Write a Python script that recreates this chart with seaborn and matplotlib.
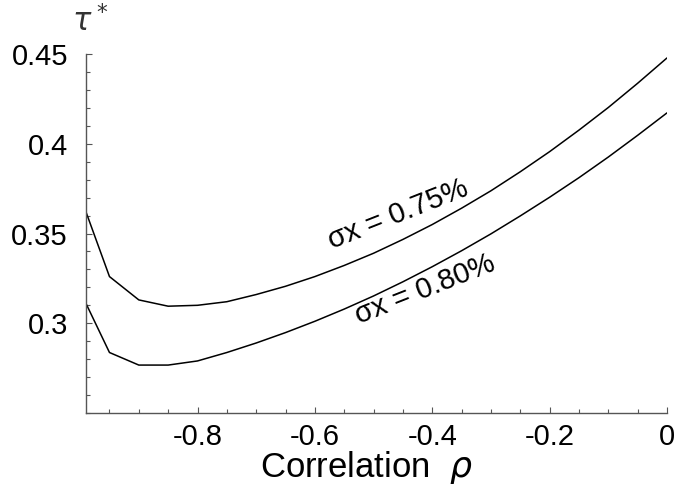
import matplotlib
matplotlib.use("Agg")
import matplotlib.pyplot as plt
import seaborn as sns
import pandas as pd
from matplotlib.ticker import MultipleLocator

rho = [-0.99, -0.95, -0.9, -0.85, -0.8, -0.75, -0.7, -0.65, -0.6, -0.55, -0.5,
       -0.45, -0.4, -0.35, -0.3, -0.25, -0.2, -0.15, -0.1, -0.05, 0.0]
tau_075 = [0.362, 0.326, 0.313, 0.3095, 0.310, 0.312, 0.316, 0.3206, 0.326, 0.3322, 0.339,
           0.3467, 0.355, 0.3641, 0.3738, 0.3844, 0.3956, 0.4076, 0.4202, 0.4337, 0.4478]
tau_080 = [0.311, 0.2837, 0.2767, 0.2767, 0.279, 0.2837, 0.289, 0.2948, 0.3011, 0.3079, 0.3152,
           0.3231, 0.3315, 0.3404, 0.3498, 0.3598, 0.3702, 0.3811, 0.3926, 0.4047, 0.4172]
series_labels = ["σx = 0.75%", "σx = 0.80%"]
x_ticks = [-0.8, -0.6, -0.4, -0.2, 0]
x_ticklabels = ["-0.8", "-0.6", "-0.4", "-0.2", "0"]
y_ticks = [0.3, 0.35, 0.4, 0.45]
y_ticklabels = ["0.3", "0.35", "0.4", "0.45"]

df = pd.DataFrame({
    "rho": rho * 2,
    "tau": tau_075 + tau_080,
    "series": [series_labels[0]] * len(rho) + [series_labels[1]] * len(rho),
})

sns.set_theme(style="ticks")
plt.rcParams["font.family"] = ["Liberation Sans", "DejaVu Sans"]
plt.rcParams["text.color"] = "black"
plt.rcParams["axes.labelcolor"] = "black"

fig = plt.figure(figsize=(6.77, 4.90), dpi=100)
ax = fig.add_axes([86 / 677, 77 / 490, (667 - 86) / 677, (413 - 54) / 490])

sns.lineplot(data=df, x="rho", y="tau", hue="series", palette=["black", "black"],
             linewidth=1.1, legend=False, ax=ax, sort=False)

ax.set_xlim(-0.99, 0)
ax.set_ylim(0.25, 0.45)
ax.set_xticks(x_ticks)
ax.set_xticklabels(x_ticklabels)
ax.set_yticks(y_ticks)
ax.set_yticklabels(y_ticklabels)
ax.xaxis.set_minor_locator(MultipleLocator(0.05))
ax.yaxis.set_minor_locator(MultipleLocator(0.01))
ax.tick_params(axis="both", which="both", direction="in", color="#555555",
               width=0.8, labelsize=21, labelcolor="black")
ax.tick_params(axis="both", which="major", length=4)
ax.tick_params(axis="both", which="minor", length=3)
ax.tick_params(axis="x", which="major", pad=7)
ax.tick_params(axis="y", which="major", pad=13)

for s in ["top", "right"]:
    ax.spines[s].set_visible(False)
for s in ["left", "bottom"]:
    ax.spines[s].set_color("#555555")
    ax.spines[s].set_linewidth(1.0)

ax.set_xlabel("Correlation  $\\rho$", fontsize=25, va="center", color="black")
ax.xaxis.set_label_coords((366 - 86) / 581, (413 - 467) / 359)
ax.set_ylabel("")
fig.text(72 / 677, 1 - 22 / 490, "$\\tau^*$", fontsize=22, color="#333333",
         ha="left", va="center")

ax.text(-0.4586, 0.3606, series_labels[0], fontsize=21, rotation=21.5,
        ha="center", va="center", rotation_mode="anchor", color="black")
ax.text(-0.412, 0.3189, series_labels[1], fontsize=21, rotation=21.5,
        ha="center", va="center", rotation_mode="anchor", color="black")

fig.savefig("out.png", dpi=100)
